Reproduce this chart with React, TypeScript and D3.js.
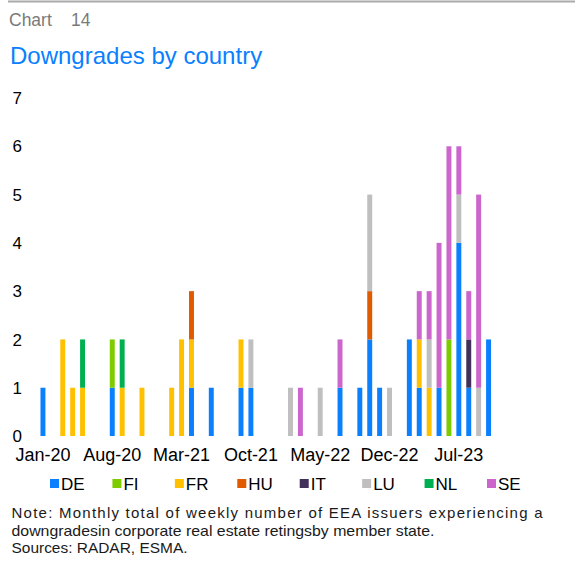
import * as d3 from "d3";

const countries = ["DE", "FI", "FR", "HU", "IT", "LU", "NL", "SE"];
const colors = ["#0a80ff", "#7dcc00", "#ffc000", "#e05a00", "#41305a", "#bfbfbf", "#00b050", "#cc66cc"];

// months Jan-20 .. Oct-23 (46)
const months = d3.timeMonth.range(new Date(2020, 0, 1), new Date(2023, 10, 1));
const tickLabels = ["Jan-20", "Aug-20", "Mar-21", "Oct-21", "May-22", "Dec-22", "Jul-23"];
const yTicks = [0, 1, 2, 3, 4, 5, 6, 7];

// 2020 (12) | 2021 (12) | 2022 (12) | 2023 Jan-Oct (10)
const DE = [1,0,0,0,0,0,0,1,0,0,0,0, 0,0,0,1,0,1,0,0,1,1,0,0, 0,0,0,0,0,0,1,0,1,2,1,0, 0,2,1,0,1,0,4,1,0,2];
const FI = [0,0,0,0,0,0,0,1,0,0,0,0, 0,0,0,0,0,0,0,0,0,0,0,0, 0,0,0,0,0,0,0,0,0,0,0,0, 0,0,0,0,0,2,0,0,0,0];
const FR = [0,0,2,1,1,0,0,0,1,0,1,0, 0,1,2,1,0,0,0,0,1,0,0,0, 0,0,0,0,0,0,0,0,0,0,0,0, 0,0,1,1,0,0,0,0,0,0];
const HU = [0,0,0,0,0,0,0,0,0,0,0,0, 0,0,0,1,0,0,0,0,0,0,0,0, 0,0,0,0,0,0,0,0,0,1,0,0, 0,0,0,0,0,0,0,0,0,0];
const IT = [0,0,0,0,0,0,0,0,0,0,0,0, 0,0,0,0,0,0,0,0,0,0,0,0, 0,0,0,0,0,0,0,0,0,0,0,0, 0,0,0,0,0,0,0,1,0,0];
const LU = [0,0,0,0,0,0,0,0,0,0,0,0, 0,0,0,0,0,0,0,0,0,1,0,0, 0,1,0,0,1,0,0,0,0,2,0,1, 0,0,0,1,0,0,1,0,1,0];
const NL = [0,0,0,0,1,0,0,0,1,0,0,0, 0,0,0,0,0,0,0,0,0,0,0,0, 0,0,0,0,0,0,0,0,0,0,0,0, 0,0,0,0,0,0,0,0,0,0];
const SE = [0,0,0,0,0,0,0,0,0,0,0,0, 0,0,0,0,0,0,0,0,0,0,0,0, 0,0,1,0,0,0,1,0,0,0,0,0, 0,0,1,1,3,4,1,1,4,0];

const series = [DE, FI, FR, HU, IT, LU, NL, SE];

const noteLines = [
  "Note: Monthly total of weekly number of EEA issuers experiencing a",
  "downgradesin corporate real estate retingsby member state.",
  "Sources: RADAR, ESMA.",
];

const FONT = "'Liberation Sans', Arial, sans-serif";

export default function App() {
  const W = 575, H = 561;

  const rows = months.map((m, i) => {
    const r: any = { month: m };
    countries.forEach((c, k) => (r[c] = series[k][i]));
    return r;
  });
  const stacked = d3.stack().keys(countries)(rows);

  const x = d3.scaleBand<Date>().domain(months).range([38, 493.5]).paddingInner(0.5).paddingOuter(0.25);
  const y = d3.scaleLinear().domain([0, 7]).range([436, 98]);
  const fmt = d3.timeFormat("%b-%y");
  const byLabel = new Map(months.map((m) => [fmt(m), m]));
  const legX = d3.scalePoint().domain(countries).range([50, 487]);
  const color = d3.scaleOrdinal<string>().domain(countries).range(colors);

  return (
    <svg width={W} height={H} style={{ position: "absolute", left: 0, top: 0, background: "#fff" }} fontFamily={FONT}>
      <line x1={8} x2={W} y1={1.5} y2={1.5} stroke="#aaaaaa" strokeWidth={2} />
      <text x={9} y={26} fontSize={17.5} fill="#7a7a7a">Chart</text>
      <text x={71} y={26} fontSize={17.5} fill="#7a7a7a">14</text>
      <text x={10} y={64} fontSize={24} fill="#0a80ff">Downgrades by country</text>

      {yTicks.map((t) => (
        <text key={t} x={12.5} y={y(t)} dy="0.36em" fontSize={17} fill="#000">{t}</text>
      ))}

      {stacked.map((s) => (
        <g key={s.key} fill={color(s.key)}>
          {s.map((d, i) =>
            d[1] > d[0] ? (
              <rect key={i} x={x(months[i])} width={x.bandwidth()} y={y(d[1])} height={y(d[0]) - y(d[1])} />
            ) : null
          )}
        </g>
      ))}

      {tickLabels.map((t) => (
        <text key={t} x={x(byLabel.get(t)!)! + x.bandwidth() / 2} y={461} textAnchor="middle" fontSize={18} fill="#000">{t}</text>
      ))}

      {countries.map((c) => (
        <g key={c} transform={`translate(${legX(c)},0)`}>
          <rect x={0} y={479} width={9} height={9} fill={color(c)} />
          <text x={11} y={490} fontSize={17} fill="#000">{c}</text>
        </g>
      ))}

      {noteLines.map((l, i) => (
        <text key={i} x={11.5} y={518 + i * 17.5} fontSize={15} fill="#1a1a1a"
          textLength={[531, 423, 176][i]} lengthAdjust={i === 0 ? "spacing" : "spacingAndGlyphs"}>{l}</text>
      ))}
    </svg>
  );
}
